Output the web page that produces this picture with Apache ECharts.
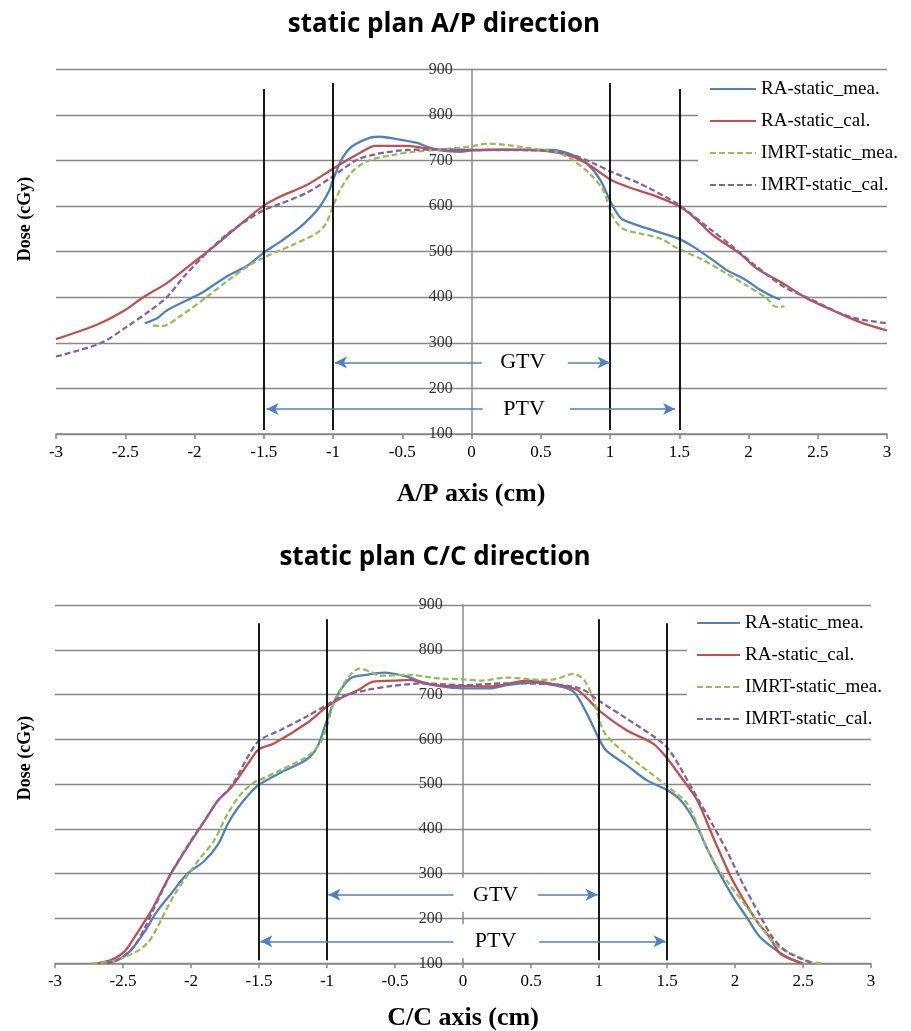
<!DOCTYPE html>
<html>
<head>
<meta charset="utf-8">
<script src="https://cdn.jsdelivr.net/npm/echarts@6/dist/echarts.min.js"></script>
<style>
html,body{margin:0;padding:0;background:#fff;}
#chart{width:911px;height:1031px;}
</style>
</head>
<body>
<div id="chart"></div>
<script>
// ---------- data: A/P direction (top) ----------
const apRaMea = [[-2.36,343],[-2.27,354],[-2.2,371],[-2.01,400],[-1.94,411],[-1.77,445],[-1.62,469],[-1.5,498],[-1.38,522],[-1.24,553],[-1.11,593],[-1.03,632],[-1.0,657],[-0.94,701],[-0.87,729],[-0.73,750],[-0.66,752],[-0.54,747],[-0.4,739],[-0.32,730],[-0.23,722],[-0.08,719],[0,722],[0.25,724],[0.59,723],[0.73,712],[0.83,694],[0.93,657],[1.01,606],[1.08,573],[1.17,561],[1.34,544],[1.49,529],[1.6,511],[1.74,482],[1.84,460],[1.98,438],[2.08,417],[2.18,401],[2.23,395]];
const apRaCal = [[-3,308],[-2.71,339],[-2.5,372],[-2.37,400],[-2.2,431],[-2.0,478],[-1.86,511],[-1.74,542],[-1.5,601],[-1.38,621],[-1.19,646],[-1.0,682],[-0.81,716],[-0.69,732],[-0.47,732],[-0.33,727],[-0.16,723],[0,723],[0.25,724],[0.49,722],[0.69,712],[0.83,694],[1.01,657],[1.12,643],[1.31,624],[1.49,601],[1.6,577],[1.74,537],[1.94,495],[2.06,463],[2.23,434],[2.42,398],[2.61,371],[2.8,346],[3.0,327]];
const apImMea = [[-2.3,338],[-2.23,337],[-2.11,357],[-1.91,401],[-1.77,434],[-1.62,467],[-1.5,487],[-1.29,515],[-1.12,540],[-1.05,562],[-1.0,599],[-0.95,635],[-0.85,679],[-0.73,701],[-0.57,712],[-0.42,719],[-0.23,724],[0,731],[0.11,737],[0.25,734],[0.49,724],[0.61,719],[0.73,701],[0.85,672],[0.95,635],[1.02,577],[1.09,551],[1.21,540],[1.36,529],[1.49,507],[1.65,485],[1.82,456],[1.98,427],[2.13,398],[2.2,379],[2.26,380]];
const apImCal = [[-3,270],[-2.68,299],[-2.49,335],[-2.32,371],[-2.2,400],[-2.08,444],[-1.91,498],[-1.77,537],[-1.62,569],[-1.5,591],[-1.38,605],[-1.19,629],[-1.02,661],[-0.83,701],[-0.69,714],[-0.47,723],[-0.23,724],[0,723],[0.49,722],[0.73,712],[0.88,694],[1.01,675],[1.21,650],[1.46,610],[1.55,591],[1.70,555],[1.89,510],[2.06,467],[2.27,420],[2.42,400],[2.66,365],[2.8,352],[3.0,343]];
const apBounds = [[-1.5,109,857],[-1,109,870],[1,109,870],[1.5,109,857]];
const apArrows = [[0.074,-0.986,257],[0.695,0.998,257],[0.08,-1.48,155],[0.71,1.47,155]];
const apLabels = [['GTV',0.37,257],['PTV',0.38,155]];

// ---------- data: C/C direction (bottom) ----------
const ccRaMea = [[-2.66,100],[-2.54,107],[-2.44,130],[-2.34,171],[-2.25,216],[-2.15,254],[-2.03,299],[-1.90,329],[-1.80,366],[-1.73,411],[-1.66,445],[-1.56,482],[-1.5,499],[-1.34,526],[-1.15,555],[-1.07,584],[-1.0,643],[-0.93,695],[-0.83,736],[-0.71,744],[-0.58,749],[-0.41,740],[-0.31,729],[-0.17,719],[0,714],[0.2,714],[0.32,721],[0.52,727],[0.67,721],[0.81,707],[0.91,658],[1.01,595],[1.06,573],[1.2,543],[1.35,509],[1.5,487],[1.6,464],[1.7,419],[1.79,359],[1.89,299],[1.99,246],[2.09,201],[2.18,160],[2.3,130],[2.4,111],[2.5,100]];
const ccRaCal = [[-2.69,100],[-2.59,107],[-2.49,126],[-2.42,156],[-2.34,194],[-2.28,224],[-2.15,299],[-2.0,372],[-1.9,418],[-1.8,464],[-1.7,494],[-1.58,546],[-1.5,578],[-1.39,591],[-1.15,636],[-1.0,673],[-0.9,692],[-0.76,712],[-0.66,729],[-0.51,731],[-0.39,733],[-0.29,725],[-0.17,720],[0,719],[0.2,718],[0.47,731],[0.64,725],[0.84,710],[1.01,662],[1.2,621],[1.4,590],[1.5,558],[1.6,517],[1.72,465],[1.84,381],[1.96,299],[2.04,254],[2.16,194],[2.26,156],[2.33,122],[2.43,107],[2.49,100]];
const ccImMea = [[-2.73,100],[-2.59,104],[-2.42,123],[-2.32,145],[-2.25,179],[-2.2,209],[-2.12,254],[-2.03,295],[-1.93,336],[-1.83,374],[-1.73,434],[-1.63,479],[-1.53,505],[-1.46,514],[-1.34,532],[-1.15,561],[-1.05,591],[-1.0,630],[-0.95,681],[-0.85,736],[-0.76,758],[-0.68,751],[-0.61,742],[-0.41,744],[-0.17,736],[0,734],[0.13,731],[0.32,738],[0.57,733],[0.67,734],[0.81,746],[0.89,733],[0.96,688],[1.03,621],[1.11,591],[1.3,543],[1.5,496],[1.65,456],[1.74,396],[1.84,329],[1.96,276],[2.09,224],[2.18,186],[2.3,141],[2.43,119],[2.55,104],[2.65,100]];
const ccImCal = [[-2.62,100],[-2.52,111],[-2.42,137],[-2.34,179],[-2.27,224],[-2.15,299],[-2.0,374],[-1.9,419],[-1.8,464],[-1.70,497],[-1.58,562],[-1.5,597],[-1.34,621],[-1.15,651],[-1.0,677],[-0.9,695],[-0.71,710],[-0.53,719],[-0.29,725],[0,721],[0.32,725],[0.57,724],[0.86,714],[1.01,684],[1.2,647],[1.47,591],[1.55,561],[1.69,487],[1.84,407],[1.94,351],[2.06,276],[2.18,209],[2.28,156],[2.38,126],[2.48,111],[2.57,100]];
const ccBounds = [[-1.5,107,859],[-1,107,868],[1,107,868],[1.5,107,859]];
const ccArrows = [[-0.07,-0.99,253],[0.55,0.99,253],[-0.07,-1.49,149],[0.56,1.49,149]];
const ccLabels = [['GTV',0.24,253],['PTV',0.24,149]];

const seriesNames = ['RA-static_mea.','RA-static_cal.','IMRT-static_mea.','IMRT-static_cal.'];
const seriesColors = ['#4F81BD','#C0504D','#9BBB59','#8064A2'];
const seriesDashed = [false,false,true,true];
const titles = ['static plan A/P direction','static plan C/C direction'];
const xNames = ['A/P axis (cm)','C/C axis (cm)'];
const yName = 'Dose (cGy)';

const SERIF = "'Liberation Serif','Times New Roman',serif";
const gridsPx = [
  {left:56, top:69.3, width:831, height:364.7},
  {left:55, top:605, width:816, height:358.3}
];

function curveSeries(idx, data, gi){
  return {
    name: seriesNames[idx], type:'line', xAxisIndex:gi, yAxisIndex:gi,
    data: data, symbol:'none', smooth:0.3, silent:true,
    lineStyle:{color:seriesColors[idx], width:2.3, type: seriesDashed[idx] ? [6,3] : 'solid'},
    itemStyle:{color:seriesColors[idx]}, z:3
  };
}
function boundSeries(bounds, gi){
  return {
    name:'bounds'+gi, type:'line', xAxisIndex:gi, yAxisIndex:gi, data:[], silent:true,
    markLine:{silent:true, symbol:['none','none'], label:{show:false}, animation:false,
      lineStyle:{color:'#000', width:1.8, type:'solid'},
      emphasis:{disabled:true},
      data: bounds.map(b => [{coord:[b[0],b[1]]},{coord:[b[0],b[2]]}])}
  };
}
function arrowSeries(arrows, gi){
  return {
    name:'arrows'+gi, type:'line', xAxisIndex:gi, yAxisIndex:gi, data:[], silent:true,
    markLine:{silent:true, symbol:['none','arrow'], symbolSize:[9,12], label:{show:false}, animation:false,
      lineStyle:{color:'#4F81BD', width:1.6, type:'solid'},
      emphasis:{disabled:true},
      data: arrows.map(a => [{coord:[a[0],a[2]]},{coord:[a[1],a[2]]}])}
  };
}
function labelSeries(labels, gi){
  return {
    name:'labels'+gi, type:'scatter', xAxisIndex:gi, yAxisIndex:gi, silent:true, z:4,
    symbol:'rect', symbolSize:[84,34], itemStyle:{color:'#fff', opacity:1},
    emphasis:{disabled:true},
    data: labels.map(l => ({name:l[0], value:[l[1],l[2]]})),
    label:{show:true, position:'inside', formatter:p => p.name, fontFamily:SERIF, fontSize:22, color:'#000', opacity:1}
  };
}

const chart = echarts.init(document.getElementById('chart'), null, {renderer:'canvas'});

function xAxisCfg(gi){
  return {type:'value', gridIndex:gi, min:-3, max:3, interval:0.5,
    axisLine:{show:true, onZero:false, lineStyle:{color:'#888', width:1.5}},
    axisTick:{show:true, inside:false, length:5, lineStyle:{color:'#888', width:1.5}},
    axisLabel:{fontFamily:SERIF, fontSize:17, color:'#000', margin:10},
    splitLine:{show:false}};
}
function yAxisCfg(gi, offset, margin){
  return {type:'value', gridIndex:gi, min:100, max:900, interval:100, position:'left', offset:offset,
    axisLine:{show:true, onZero:false, lineStyle:{color:'#888', width:1.5}},
    axisTick:{show:false},
    axisLabel:{fontFamily:SERIF, fontSize:16, color:'#333', margin:margin},
    splitLine:{show:true, lineStyle:{color:'#888', width:1.4}}};
}
function legendCfg(left, top, iw, padL){
  return {data:seriesNames, orient:'vertical', left:left, top:top, itemWidth:iw, itemHeight:14, itemGap:12,
    padding:[6,14,6,padL], backgroundColor:'#fff', selectedMode:false,
    itemStyle:{opacity:0, borderWidth:0},
    textStyle:{fontFamily:SERIF, fontSize:19, color:'#000', lineHeight:20}};
}

const option = {
  animation:false,
  backgroundColor:'#fff',
  grid: gridsPx.map(g => ({left:g.left, top:g.top, width:g.width, height:g.height, containLabel:false})),
  xAxis:[xAxisCfg(0), xAxisCfg(1)],
  yAxis:[yAxisCfg(0,-415.7,19), yAxisCfg(1,-407.7,20)],
  legend:[legendCfg(698,73,46,11), legendCfg(687,607,43,9)],
  graphic:[
    {type:'text', x:444, y:25, style:{text:titles[0], font:"bold 26px 'Open Sans', Lato, sans-serif", fill:'#000', align:'center', verticalAlign:'middle', textAlign:'center', textVerticalAlign:'middle'}},
    {type:'text', x:435, y:558, style:{text:titles[1], font:"bold 26px 'Open Sans', Lato, sans-serif", fill:'#000', align:'center', verticalAlign:'middle', textAlign:'center', textVerticalAlign:'middle'}},
    {type:'text', x:25, y:219, rotation:Math.PI/2, style:{text:yName, font:"bold 18px "+SERIF, fill:'#000', align:'center', verticalAlign:'middle', textAlign:'center', textVerticalAlign:'middle'}},
    {type:'text', x:25, y:758, rotation:Math.PI/2, style:{text:yName, font:"bold 18px "+SERIF, fill:'#000', align:'center', verticalAlign:'middle', textAlign:'center', textVerticalAlign:'middle'}},
    {type:'text', x:471, y:494, style:{text:xNames[0], font:"bold 26px "+SERIF, fill:'#000', align:'center', verticalAlign:'middle', textAlign:'center', textVerticalAlign:'middle'}},
    {type:'text', x:463, y:1018, style:{text:xNames[1], font:"bold 26px "+SERIF, fill:'#000', align:'center', verticalAlign:'middle', textAlign:'center', textVerticalAlign:'middle'}}
  ],
  series:[
    boundSeries(apBounds,0), arrowSeries(apArrows,0), labelSeries(apLabels,0),
    curveSeries(0, apRaMea, 0), curveSeries(1, apRaCal, 0), curveSeries(2, apImMea, 0), curveSeries(3, apImCal, 0),
    boundSeries(ccBounds,1), arrowSeries(ccArrows,1), labelSeries(ccLabels,1),
    curveSeries(0, ccRaMea, 1), curveSeries(1, ccRaCal, 1), curveSeries(2, ccImMea, 1), curveSeries(3, ccImCal, 1)
  ]
};
chart.setOption(option);
</script>
</body>
</html>
